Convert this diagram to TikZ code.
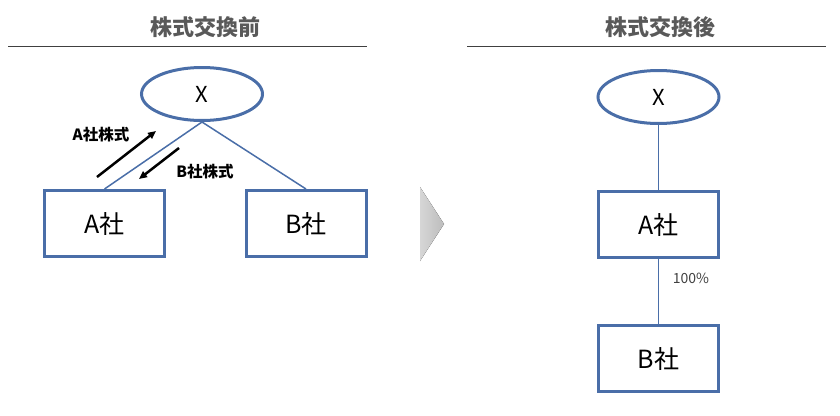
\documentclass[tikz,border=0pt]{standalone}
\usepackage{fontspec}
\setmainfont{Noto Sans CJK JP}
\usetikzlibrary{shapes.geometric, positioning, arrows.meta}
\definecolor{frameblue}{RGB}{74,110,168}
\definecolor{titlegray}{RGB}{89,89,89}
\definecolor{rulegray}{RGB}{64,64,64}
\tikzset{>={Triangle[length=8pt, width=7pt]}}

\begin{document}
\begin{tikzpicture}[x=1pt, y=-1pt,
    owner/.style={ellipse, draw=frameblue, line width=3pt, minimum width=121pt, minimum height=53pt, inner sep=0pt, font=\fontsize{22}{25}\selectfont},
    firm/.style={rectangle, draw=frameblue, line width=3pt, minimum width=120pt, minimum height=66pt, inner sep=0pt, font=\fontsize{25}{28}\selectfont},
    link/.style={draw=frameblue, line width=1.5pt},
    title/.style={font=\fontsize{22}{26}\selectfont\bfseries, text=titlegray},
    share/.style={font=\fontsize{15.5}{18}\selectfont\bfseries},
    flow/.style={->, line width=2.5pt}]
    \useasboundingbox (0,0) rectangle (840,415);

    % before the exchange
    \node[title] (pre) at (205,27) {株式交換前};
    \draw[rulegray, line width=1pt] (8,46) -- (367,46);
    \node[owner] (X1) at (202,94) {X};
    \node[firm] (A1) at (104.5,223.5) {A社};
    \node[firm] (B1) at (306,223.5) {B社};
    \draw[link] (X1.south) -- (A1.north)
                (X1.south) -- (B1.north);
    \coordinate (a0) at (97,177);
    \coordinate (a1) at (156,131);
    \coordinate (b0) at (179,148);
    \coordinate (b1) at (139,179);
    \draw[flow] (a0) -- (a1);
    \draw[flow] (b0) -- (b1);
    \node[share] (lA) at (101,135) {A社株式};
    \node[share] (lB) at (205,172) {B社株式};

    % chevron
    \fill[left color=black!16, right color=black!26] (420,187) -- (444,224) -- (420,261) -- cycle;

    % after the exchange
    \node[title] (post) at (660,27) {株式交換後};
    \draw[rulegray, line width=1pt] (467,46) -- (826,46);
    \node[owner] (X2) at (658.5,97) {X};
    \node[firm] (A2) [below=65pt of X2] {A社};
    \node[firm] (B2) [below=65pt of A2] {B社};
    \draw[link] (X2) -- (A2)
                (A2) -- (B2);
    \node[font=\fontsize{14}{16}\selectfont, text=rulegray] (pct) at (691,278) {100\%};
\end{tikzpicture}
\end{document}
